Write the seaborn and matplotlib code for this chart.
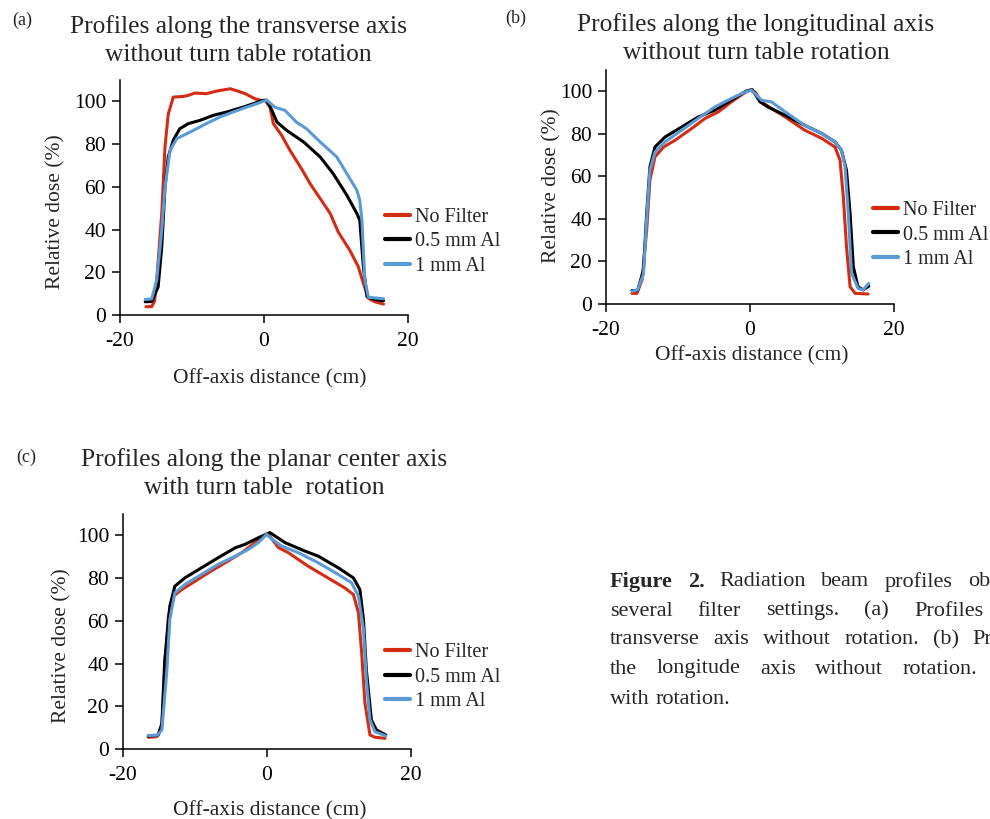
import matplotlib
matplotlib.use("Agg")
import matplotlib.pyplot as plt
import numpy as np
import pandas as pd
import seaborn as sns

sns.set_style("ticks")
plt.rcParams["font.family"] = ["Liberation Serif", "DejaVu Serif"]
plt.rcParams["axes.unicode_minus"] = False

# ---------------- data ----------------
series_names = ["No Filter", "0.5 mm Al", "1 mm Al"]
series_colors = ["#D42B13", "#000000", "#5B9BD5"]

# (a) transverse axis, no rotation
a_red_x = [-16.4, -15.6, -15.2, -14.9, -14.2, -13.75, -13.3, -12.6, -11.2, -10.5, -9.6, -8.0, -6.6, -4.7, -3.8, -2.6, -1.25, -0.1,
           0.14, 0.83, 1.3, 2.45, 3.6, 5.2, 6.4, 7.8, 9.2, 10.3, 11.9, 13.1, 13.8, 14.5, 15.4, 16.6]
a_red_y = [3.9, 3.9, 6.5, 16.4, 47.6, 78.7, 94.0, 102.0, 102.3, 102.8, 103.9, 103.6, 104.8, 105.9, 105.0, 103.6, 101.2, 100.2,
           100.5, 97.3, 89.6, 84.1, 77.1, 68.5, 61.5, 54.5, 47.5, 38.9, 30.4, 22.6, 14.8, 7.8, 6.2, 5.1]
a_blk_x = [-16.5, -15.6, -14.7, -14.2, -13.75, -13.3, -12.6, -11.7, -10.5, -8.9, -7.0, -5.2, -2.9, -0.8, -0.1,
           0.4, 1.1, 1.8, 3.15, 5.5, 7.8, 9.6, 11.5, 12.9, 13.3, 13.8, 14.3, 15.4, 16.6]
a_blk_y = [6.2, 6.3, 13.2, 31.9, 60.0, 74.0, 81.8, 87.2, 89.6, 91.1, 93.5, 95.0, 97.3, 99.7, 100.5,
           100.5, 95.8, 90.3, 86.4, 81.0, 74.0, 66.2, 56.1, 47.5, 44.4, 22.6, 8.6, 7.2, 6.7]
a_blu_x = [-16.5, -15.6, -14.9, -14.2, -13.75, -13.05, -12.1, -10.7, -9.35, -8.0, -6.1, -4.3, -2.4, -1.0, 0.1,
           0.4, 1.5, 2.9, 4.5, 5.9, 7.8, 10.1, 11.5, 12.9, 13.3, 13.6, 14.0, 14.5, 16.6]
a_blu_y = [7.3, 7.5, 16.4, 39.7, 60.0, 77.1, 82.6, 84.9, 87.2, 89.6, 92.7, 95.0, 97.3, 98.9, 100.3,
           100.5, 97.3, 95.8, 90.3, 87.2, 81.0, 74.0, 66.2, 58.4, 53.7, 44.4, 16.4, 8.3, 7.6]

# (b) longitudinal axis, no rotation
b_red_x = [-16.4, -15.7, -15.0, -14.35, -13.9, -13.2, -12.0, -10.4, -8.1, -6.25, -4.4, -2.6, -0.93, -0.05,
           0.7, 1.6, 3.0, 4.9, 7.6, 10.0, 11.8, 12.5, 12.96, 13.4, 13.9, 14.6, 16.4]
b_red_y = [5.0, 5.0, 11.3, 34.7, 58.2, 69.2, 73.8, 77.0, 82.5, 87.2, 90.3, 95.0, 98.9, 100.5,
           99.7, 95.0, 91.9, 87.9, 81.7, 77.8, 73.8, 67.6, 50.4, 26.9, 8.1, 5.0, 4.7]
b_blk_x = [-16.4, -15.6, -14.8, -14.35, -13.9, -13.2, -11.8, -9.5, -7.2, -4.9, -2.6, -0.6, 0.3,
           1.4, 2.5, 4.9, 7.6, 10.0, 11.8, 12.7, 13.4, 13.9, 14.35, 15.0, 15.7, 16.5]
b_blk_y = [6.3, 6.4, 16.0, 42.6, 64.5, 73.8, 78.5, 83.2, 87.9, 91.1, 95.8, 100.0, 100.8,
           95.0, 92.6, 88.7, 84.0, 80.1, 76.2, 72.3, 62.9, 42.6, 17.5, 8.1, 6.6, 8.4]
b_blu_x = [-16.4, -15.6, -14.8, -14.35, -13.9, -13.2, -11.8, -9.5, -7.2, -4.9, -2.6, -0.8, 0.2,
           1.6, 3.0, 4.9, 7.6, 10.0, 11.8, 12.7, 13.2, 13.65, 14.1, 15.0, 15.7, 16.5]
b_blu_y = [6.0, 6.6, 14.0, 40.0, 63.0, 71.4, 76.2, 81.7, 87.2, 92.6, 96.6, 99.5, 100.5,
           95.8, 95.0, 90.3, 84.0, 80.1, 76.2, 72.3, 64.5, 42.6, 14.4, 7.4, 6.6, 9.7]

# (c) planar center axis, with rotation
c_red_x = [-16.5, -15.3, -14.6, -14.2, -13.7, -13.0, -11.85, -10.0, -8.15, -5.8, -3.5, -1.7, -0.05,
           0.18, 1.6, 2.96, 5.7, 8.05, 10.8, 12.0, 12.7, 13.15, 13.6, 14.3, 15.0, 16.4]
c_red_y = [5.5, 5.8, 10.5, 37.0, 62.1, 71.5, 74.6, 78.5, 82.5, 87.2, 91.9, 96.6, 100.5,
           100.5, 94.2, 91.9, 85.6, 80.9, 75.4, 72.3, 63.7, 44.9, 21.5, 6.6, 5.5, 5.0]
c_blk_x = [-16.5, -15.1, -14.6, -14.2, -13.5, -12.8, -11.4, -9.1, -6.8, -4.4, -3.05, -1.2,
           0.4, 2.5, 5.3, 7.1, 9.9, 12.0, 12.9, 13.4, 13.8, 14.5, 15.2, 16.5]
c_blk_y = [6.0, 6.5, 12.0, 41.8, 66.8, 76.2, 80.1, 84.8, 89.5, 94.2, 95.8, 98.9,
           101.3, 96.6, 92.6, 90.3, 84.8, 80.1, 74.6, 60.6, 37.0, 13.6, 8.9, 6.6]
c_blu_x = [-16.5, -15.2, -14.6, -13.9, -13.5, -12.8, -11.4, -9.1, -6.8, -4.4, -2.6, -1.2, -0.05,
           0.4, 2.0, 4.35, 7.1, 9.9, 11.75, 12.7, 13.4, 13.8, 14.3, 15.0, 16.5]
c_blu_y = [6.3, 6.5, 8.9, 37.0, 60.6, 73.1, 77.0, 81.7, 86.4, 90.3, 93.4, 96.6, 100.5,
           99.0, 95.0, 91.9, 87.2, 81.7, 77.8, 71.5, 55.9, 32.4, 13.6, 8.1, 6.1]

x_ticks = [-20, 0, 20]
y_ticks = [0, 20, 40, 60, 80, 100]

panel_titles = [
    ("Profiles along the transverse axis", "without turn table rotation"),
    ("Profiles along the longitudinal axis", "without turn table rotation"),
    ("Profiles along the planar center axis", "with turn table  rotation"),
]
panel_tags = ["(a)", "(b)", "(c)"]
x_label = "Off-axis distance (cm)"
y_label = "Relative dose (%)"

caption_lines = [
    [("Figure", True), ("2.", True), ("Radiation", False), ("beam", False), ("profiles", False), ("obtained", False)],
    [("several", False), ("filter", False), ("settings.", False), ("(a)", False), ("Profiles", False), ("along", False)],
    [("transverse", False), ("axis", False), ("without", False), ("rotation.", False), ("(b)", False), ("Profiles", False)],
    [("the", False), ("longitude", False), ("axis", False), ("without", False), ("rotation.", False), ("(c)", False)],
    [("with", False), ("rotation.", False)],
]

# ---------------- layout (pixels) ----------------
W, H = 990, 819
fig = plt.figure(figsize=(W / 100, H / 100), dpi=100)
fig.patch.set_facecolor("white")


def add_ax(left, right, bottom, top):
    return fig.add_axes([left / W, 1 - bottom / H, (right - left) / W, (bottom - top) / H])


panels = [
    dict(box=(120, 408, 315, 80),
         data=[(a_red_x, a_red_y), (a_blk_x, a_blk_y), (a_blu_x, a_blu_y)],
         title_xy=(238, 27, 55), tag_xy=(22, 20),
         ylab=(-0.19, 0.44), xlab=(0.52, -0.23), leg=(0.92, 0.311)),
    dict(box=(606, 894, 304, 70),
         data=[(b_red_x, b_red_y), (b_blk_x, b_blk_y), (b_blu_x, b_blu_y)],
         title_xy=(756, 25, 53), tag_xy=(516, 18),
         ylab=(-0.156, 0.508), xlab=(0.505, -0.18), leg=(0.927, 0.295)),
    dict(box=(123, 411, 749, 514),
         data=[(c_red_x, c_red_y), (c_blk_x, c_blk_y), (c_blu_x, c_blu_y)],
         title_xy=(264, 460, 488), tag_xy=(26, 457),
         ylab=(-0.18, 0.438), xlab=(0.51, -0.22), leg=(0.91, 0.306)),
]

for i, p in enumerate(panels):
    ax = add_ax(*p["box"])
    frames = []
    for name, (xs, ys) in zip(series_names, p["data"]):
        frames.append(pd.DataFrame({"x": xs, "y": ys, "series": name}))
    df = pd.concat(frames, ignore_index=True)
    sns.lineplot(data=df, x="x", y="y", hue="series", hue_order=series_names,
                 palette=series_colors, sort=False, estimator=None, linewidth=2.2, ax=ax)
    for ln in ax.get_lines():
        ln.set_solid_joinstyle("round")
        ln.set_solid_capstyle("round")
    ax.set_xlim(-20, 20)
    ax.set_ylim(0, 110)
    ax.set_xticks(x_ticks)
    ax.set_yticks(y_ticks)
    ax.set_xticklabels([str(v) for v in x_ticks])
    ax.set_yticklabels([str(v) for v in y_ticks])
    for s in ["top", "right"]:
        ax.spines[s].set_visible(False)
    for s in ["left", "bottom"]:
        ax.spines[s].set_linewidth(1.1)
        ax.spines[s].set_color("black")
    ax.tick_params(direction="out", length=6, width=1.1, labelsize=15.5, colors="black")
    ax.tick_params(axis="x", pad=6)
    ax.tick_params(axis="y", pad=4)
    ax.set_xlabel(x_label, fontsize=15.5)
    ax.set_ylabel(y_label, fontsize=15.5)
    ax.xaxis.set_label_coords(*p["xlab"])
    ax.yaxis.set_label_coords(*p["ylab"])
    handles, labels = ax.get_legend_handles_labels()
    leg = ax.legend(handles, labels, loc="center left", bbox_to_anchor=p["leg"],
                    frameon=False, fontsize=14.5, handlelength=1.25, handletextpad=0.25,
                    labelspacing=0.28, borderpad=0, borderaxespad=0)
    for h in leg.get_lines():
        h.set_linewidth(3.0)
    ax.set_facecolor("white")
    tx, ty1, ty2 = p["title_xy"]
    fig.text(tx / W, 1 - ty1 / H, panel_titles[i][0], ha="center", va="center", fontsize=18.4)
    fig.text(tx / W, 1 - ty2 / H, panel_titles[i][1], ha="center", va="center", fontsize=18.4)
    gx, gy = p["tag_xy"]
    fig.text(gx / W, 1 - gy / H, panel_tags[i], ha="center", va="center", fontsize=13)

cap_y = [582, 611, 640, 669, 699]
cap_gap = [15.1, 25.0, 13.6, 19.4, 5.5]
cap_x0 = 610
renderer = fig.canvas.get_renderer()
for words, y, gap in zip(caption_lines, cap_y, cap_gap):
    x = cap_x0
    for w, bold in words:
        t = fig.text(x / W, 1 - y / H, w, ha="left", va="center", fontsize=16,
                     fontweight="bold" if bold else "normal")
        bb = t.get_window_extent(renderer=renderer)
        x = x + bb.width + gap
        if x > W + 50:
            break

fig.savefig("out.png", dpi=100)
